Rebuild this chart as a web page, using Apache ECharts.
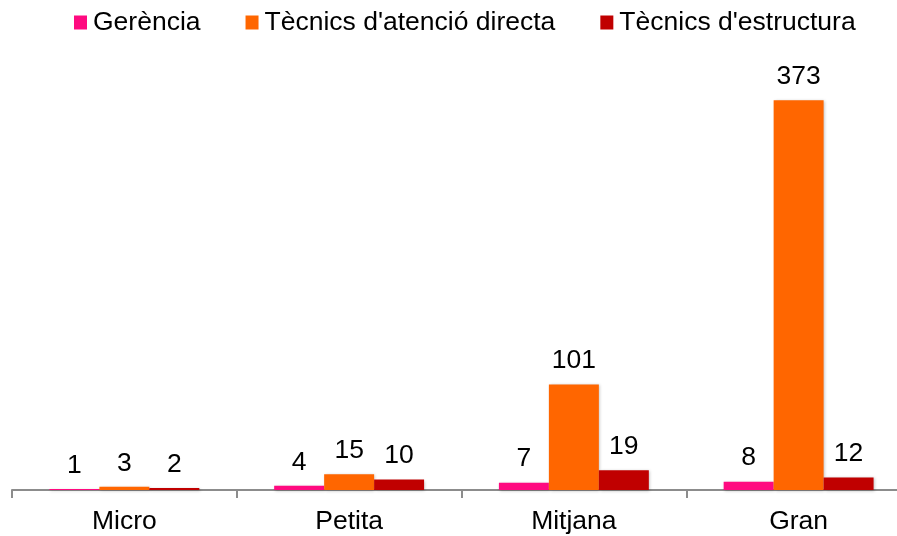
<!DOCTYPE html>
<html><head><meta charset="utf-8">
<script src="https://cdn.jsdelivr.net/npm/echarts@6/dist/echarts.min.js"></script>
<style>html,body{margin:0;padding:0;background:#fff;overflow:hidden}#c{width:911px;height:536px}</style>
</head><body><div id="c"></div>
<script>
const categories = ['Micro', 'Petita', 'Mitjana', 'Gran'];
const seriesNames = ['Gerència', "Tècnics d'atenció directa", "Tècnics d'estructura"];
const gerencia = [1, 4, 7, 8];
const atencioDirecta = [3, 15, 101, 373];
const estructura = [2, 10, 19, 12];
const colors = ['#FF0A80', '#FF6600', '#C00000'];

const chart = echarts.init(document.getElementById('c'));
const font = '"Liberation Sans", Arial, sans-serif';
const fs = 26.5;
const mk = (name, data, color) => ({
  name, type: 'bar', data, barGap: '0%', barCategoryGap: '33.3%',
  itemStyle: { color, shadowColor: 'rgba(0,0,0,0.25)', shadowBlur: 3, shadowOffsetX: 1, shadowOffsetY: 1 },
  label: { show: true, position: 'top', distance: 10, color: '#000', fontSize: fs, fontFamily: font },
  animation: false
});
chart.setOption({
  animation: false,
  color: colors,
  legend: {
    top: 4, left: 69, itemWidth: 13, itemHeight: 14, itemGap: 45,
    icon: 'rect',
    textStyle: { fontSize: fs, fontFamily: font, color: '#000', padding: [0, 0, 0, 1] },
    data: seriesNames
  },
  grid: { left: 12, right: 0, top: 72, bottom: 46, containLabel: false },
  xAxis: {
    type: 'category', data: categories,
    axisLine: { lineStyle: { color: '#8c8c8c', width: 2 } },
    axisTick: { show: true, length: 8, lineStyle: { color: '#8c8c8c', width: 2 } },
    axisLabel: { color: '#000', fontSize: fs, fontFamily: font, margin: 18 }
  },
  yAxis: { type: 'value', min: 0, max: 400, show: false, splitLine: { show: false } },
  series: [
    mk(seriesNames[0], gerencia, colors[0]),
    mk(seriesNames[1], atencioDirecta, colors[1]),
    mk(seriesNames[2], estructura, colors[2])
  ]
});
</script></body></html>
